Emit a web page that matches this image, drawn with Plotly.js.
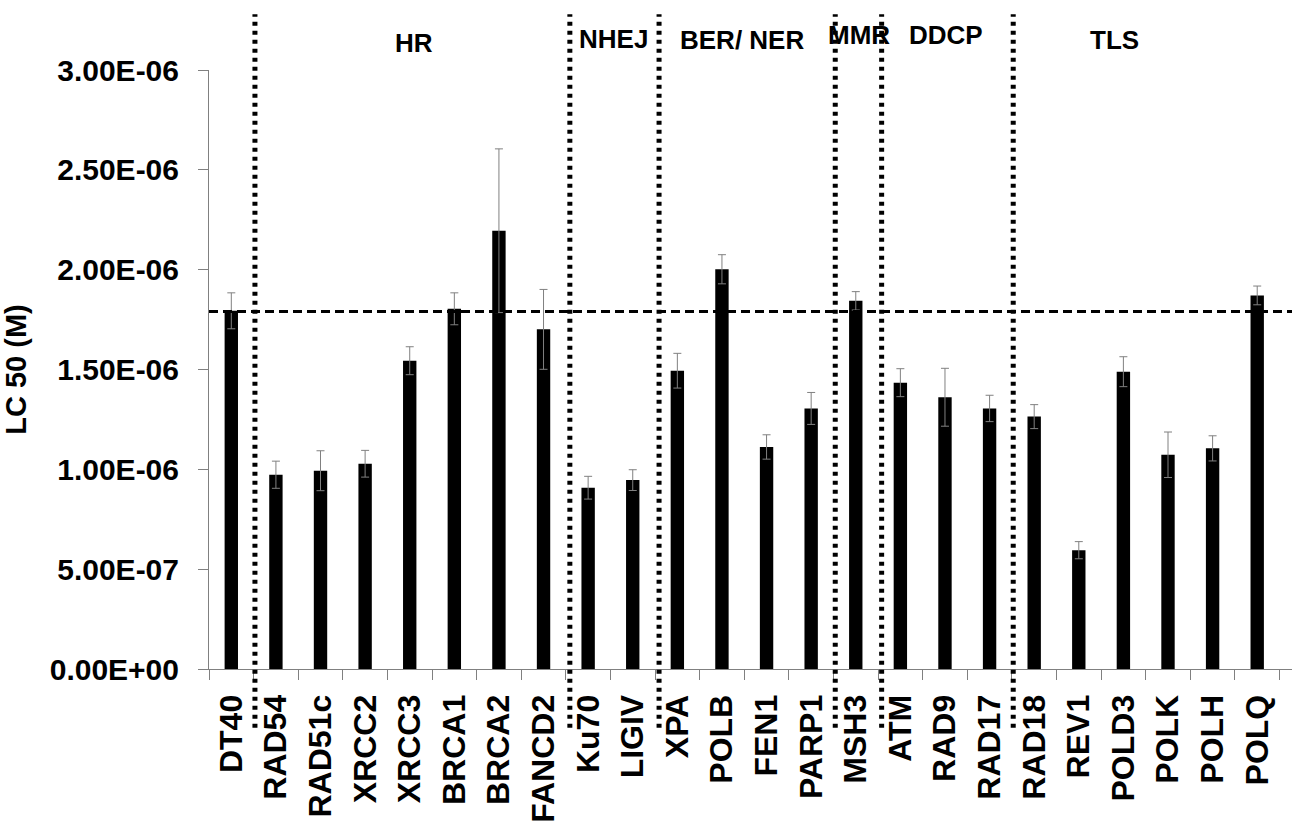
<!DOCTYPE html>
<html>
<head>
<meta charset="utf-8">
<script src="https://cdn.plot.ly/plotly-3.0.1.min.js"></script>
<style>
  html, body { margin: 0; padding: 0; background: #fff; }
  #chart { width: 1292px; height: 826px; }
</style>
</head>
<body>
<div id="chart"></div>
<script>
// ---- data ----
const categories = ["DT40", "RAD54", "RAD51c", "XRCC2", "XRCC3", "BRCA1", "BRCA2", "FANCD2",
  "Ku70", "LIGIV", "XPA", "POLB", "FEN1", "PARP1", "MSH3", "ATM", "RAD9", "RAD17",
  "RAD18", "REV1", "POLD3", "POLK", "POLH", "POLQ"];
const lc50 = [1.794e-6, 0.973e-6, 0.993e-6, 1.028e-6, 1.544e-6, 1.804e-6, 2.195e-6, 1.701e-6,
  0.908e-6, 0.946e-6, 1.494e-6, 2.002e-6, 1.112e-6, 1.305e-6, 1.844e-6, 1.434e-6, 1.361e-6, 1.305e-6,
  1.264e-6, 0.595e-6, 1.489e-6, 1.073e-6, 1.105e-6, 1.871e-6];
const lc50Err = [0.090e-6, 0.068e-6, 0.100e-6, 0.067e-6, 0.070e-6, 0.080e-6, 0.410e-6, 0.200e-6,
  0.057e-6, 0.052e-6, 0.087e-6, 0.073e-6, 0.061e-6, 0.080e-6, 0.046e-6, 0.070e-6, 0.145e-6, 0.066e-6,
  0.060e-6, 0.043e-6, 0.075e-6, 0.114e-6, 0.063e-6, 0.047e-6];
const referenceLevel = 1.79e-6;
const yTickVals = [0, 5e-7, 1e-6, 1.5e-6, 2e-6, 2.5e-6, 3e-6];
const yTickText = ["0.00E+00", "5.00E-07", "1.00E-06", "1.50E-06", "2.00E-06", "2.50E-06", "3.00E-06"];
const groupNames = ["HR", "NHEJ", "BER/ NER", "MMR", "DDCP", "TLS"];
// ---- layout helpers (positions, not data) ----
const groupLabelX = [4.10, 8.56, 11.45, 14.07, 16.02, 19.81];
const groupLabelY = [1.045, 1.052, 1.050, 1.058, 1.058, 1.050];
const dividerX = [0.53, 7.59, 9.59, 13.54, 14.58, 17.53];
const xMin = -0.5, xMax = 23.78;
const toPaperX = v => (v - xMin) / (xMax - xMin);

const FONT = "Liberation Sans, Arial, Helvetica, sans-serif";

const trace = {
  type: "bar",
  x: categories,
  y: lc50,
  width: 0.3,
  marker: { color: "#000000", line: { width: 0 } },
  error_y: { type: "data", array: lc50Err, visible: true, color: "#808080", thickness: 1, width: 4 },
  hoverinfo: "skip"
};

const shapes = dividerX.map(v => ({
  type: "line", xref: "paper", yref: "paper",
  x0: toPaperX(v), x1: toPaperX(v), y0: -0.098, y1: 1.093,
  line: { color: "#000000", width: 5, dash: "4px,5px" },
  layer: "above"
}));
shapes.push({
  type: "line", xref: "paper", yref: "y",
  x0: 0, x1: 1, y0: referenceLevel, y1: referenceLevel,
  line: { color: "#000000", width: 3, dash: "9px,5px" },
  layer: "above"
});

const annotations = groupNames.map((g, i) => ({
  text: g, xref: "x", yref: "paper", x: groupLabelX[i], y: groupLabelY[i],
  xanchor: "center", yanchor: "middle", showarrow: false,
  font: { family: FONT, size: 26, color: "#000", weight: "bold" }
}));

const layout = {
  width: 1292, height: 826,
  margin: { l: 209, r: 0, t: 70, b: 157, pad: 0 },
  paper_bgcolor: "#ffffff", plot_bgcolor: "#ffffff",
  showlegend: false,
  xaxis: {
    type: "category",
    range: [xMin, xMax],
    showgrid: false, zeroline: false,
    showline: true, linecolor: "#808080", linewidth: 1,
    ticks: "outside", tickson: "boundaries", ticklen: 10, tickcolor: "#808080", tickwidth: 1,
    tickangle: -90,
    ticklabelstandoff: 12,
    tickfont: { family: FONT, size: 32, color: "#000", weight: "bold" }
  },
  yaxis: {
    range: [0, 3e-6],
    tickvals: yTickVals, ticktext: yTickText,
    showgrid: false, zeroline: false,
    showline: true, linecolor: "#808080", linewidth: 1,
    ticks: "outside", ticklen: 10, tickcolor: "#808080", tickwidth: 1,
    ticklabelstandoff: 13,
    tickfont: { family: FONT, size: 30, color: "#000", weight: "bold" },
    title: { text: "LC 50 (M)", standoff: 14, font: { family: FONT, size: 29, color: "#000", weight: "bold" } }
  },
  shapes: shapes,
  annotations: annotations
};

Plotly.newPlot("chart", [trace], layout, { staticPlot: true, displayModeBar: false });
</script>
</body>
</html>
